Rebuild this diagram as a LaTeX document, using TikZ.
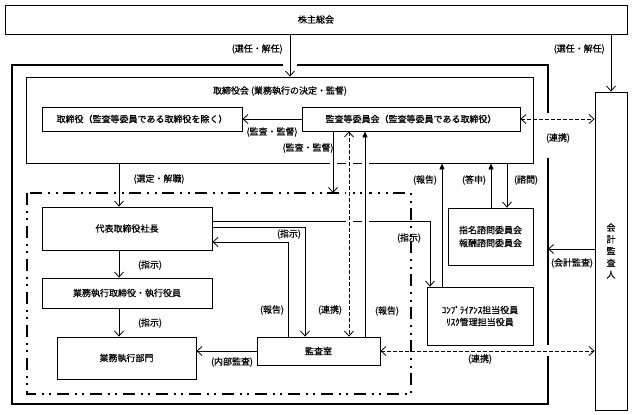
\documentclass[tikz,border=0pt]{standalone}
\usepackage{fontspec}
\setmainfont{Noto Sans CJK JP}[FakeBold=0.6]
\usetikzlibrary{arrows.meta,calc}
\pgfdeclarelayer{back}
\pgfsetlayers{back,main}
\newcommand\dfont{\fontsize{9}{11}\selectfont}
\tikzset{
  box/.style={draw=black, line width=0.8pt, fill=white, font=\dfont, align=center, inner sep=1pt},
  lbl/.style={font=\dfont, inner sep=1pt},
  conn/.style={draw=black, line width=0.8pt},
  oarr/.style={conn, -{Straight Barb[length=5pt,width=9pt]}},
  tarr/.style={conn, -{Triangle[length=6pt,width=5pt]}},
  darr/.style={conn, dash pattern=on 3.5pt off 2.5pt, {Straight Barb[length=5pt,width=9pt]}-{Straight Barb[length=5pt,width=9pt]}},
  gapcut/.style={preaction={draw=white, line width=7pt, solid, -}},
  thickframe/.style={draw=black, line width=2.3pt},
  ddframe/.style={draw=black, line width=2.1pt, dash pattern=on 12pt off 5.5pt on 2pt off 5.5pt on 2pt off 6pt}
}
\begin{document}
\begin{tikzpicture}[x=1pt,y=-1pt]
\useasboundingbox (0,0) rectangle (632,415);

% column / row helpers
\coordinate (xa) at (119,0);
\coordinate (xb) at (290,0);
\coordinate (xc) at (333,0);
\coordinate (xd) at (349,0);
\coordinate (xe) at (365,0);
\coordinate (xf) at (442,0);
\coordinate (xg) at (491,0);
\coordinate (xh) at (507,0);
\coordinate (xi) at (430,0);
\coordinate (xj) at (305,0);
\coordinate (xk) at (288,0);
\coordinate (ya) at (0,221);
\coordinate (yb) at (0,227);
\coordinate (yc) at (0,242);
\coordinate (yd) at (0,249);
\coordinate (ddtop) at (0,193);
\coordinate (ofr) at (548,0);

% main boxes
\node[box, minimum width=622pt, minimum height=29pt] (sh) at (316,19.5) {株主総会};
\node[box, minimum width=200pt, minimum height=24pt] (dir) at (142,119) {取締役（監査等委員である取締役を除く）};
\node[box, minimum width=218pt, minimum height=24pt] (ac) at (411,119) {監査等委員会（監査等委員である取締役）};
\node[box, minimum width=32pt, minimum height=318pt, font=\fontsize{9}{11.75}\selectfont] (kaikei) at (611,251) {会\\計\\監\\査\\人};
\node[box, minimum width=170pt, minimum height=43pt] (ceo) at (127,228.5) {代表取締役社長};
\node[box, minimum width=170pt, minimum height=30pt] (exec) at (127,293) {業務執行取締役・執行役員};
\node[box, minimum width=139pt, minimum height=42pt] (dept) at (126.5,358) {業務執行部門};
\node[box, minimum width=123pt, minimum height=28pt] (iad) at (318.5,351) {監査室};
\node[box, minimum width=85pt, minimum height=57pt, font=\fontsize{9}{13}\selectfont] (nom) at (490.5,236.5) {指名諮問委員会\\報酬諮問委員会};
\node[box, minimum width=106pt, minimum height=58pt, font=\fontsize{9}{12}\selectfont] (comp) at (480,316) {ｺﾝﾌﾟﾗｲｱﾝｽ担当役員\\ﾘｽｸ管理担当役員};

% labels
\node[lbl] (btitle) at (280,91) {取締役会 (業務執行の決定・監督)};
\node[lbl, anchor=east] (l1) at (284,49) {(選任・解任)};
\node[lbl, anchor=east] (l2) at (606,49) {(選任・解任)};
\node[lbl] (l3) at (272,132) {(監査・監督)};
\node[lbl] (l4) at (308,148) {(監査・監督)};
\node[lbl] (l5) at (558,138) {(連携)};
\node[lbl] (l6) at (159,179) {(選定・解職)};
\node[lbl] (l7) at (150,265) {(指示)};
\node[lbl] (l8) at (150,323) {(指示)};
\node[lbl] (l9) at (289,234) {(指示)};
\node[lbl] (l10) at (409,238) {(指示)};
\node[lbl] (l11) at (272,310) {(報告)};
\node[lbl] (l12) at (330,310) {(連携)};
\node[lbl] (l13) at (387,311) {(報告)};
\node[lbl] (l14) at (232,362) {(内部監査)};
\node[lbl] (l15) at (480,359) {(連携)};
\node[lbl] (l16) at (425,180) {(報告)};
\node[lbl] (l17) at (474,180) {(答申)};
\node[lbl] (l18) at (526,180) {(諮問)};
\node[lbl] (l19) at (572,263) {(会計監査)};

\begin{pgfonlayer}{back}
  % outer thick frame (with openings where lines pass)
  \draw[thickframe] (283,65) -- (12,65) -- (12,404) -- (548,404) -- (548,356);
  \draw[thickframe] (297,65) -- (548,65) -- (548,113);
  \draw[thickframe] (548,158) -- (548,345);
  % board of directors frame
  \node[draw=black, line width=0.8pt, minimum width=507pt, minimum height=86pt, inner sep=0pt] (board) at (279.5,120) {};
  % president -> compliance officer
  \draw[oarr, gapcut] (ceo.east |- ya) -- (xi |- ya) -- (comp.north -| xi);
  % audit committee -> execution block
  \draw[oarr, gapcut] (ac.south -| xc) -- (xc |- ddtop);
  % dash-dot frame of the execution block
  \draw[ddframe] (27,193) rectangle (411,394);
  % audit committee <-> internal audit office
  \draw[darr, gapcut] (ac.south -| xd) -- (iad.north -| xd);
  \draw[tarr, gapcut] (iad.north -| xe) -- (ac.south -| xe);
  % other connectors
  \draw[oarr] (sh.south -| xb) -- (board.north -| xb);
  \draw[oarr] (sh.south -| kaikei) -- (kaikei.north);
  \draw[oarr] (ac.west) -- (dir.east);
  \draw[darr] (ac.east) -- (kaikei.west |- ac.east);
  \draw[oarr] (board.south -| xa) -- (ceo.north -| xa);
  \draw[oarr] (ceo.south -| xa) -- (exec.north -| xa);
  \draw[oarr] (exec.south -| xa) -- (dept.north -| xa);
  \draw[oarr] (ceo.east |- yb) -| (iad.north -| xj);
  \draw[oarr] (iad.north -| xk) |- (ceo.east |- yc);
  \draw[oarr] (iad.west) -- (dept.east |- iad.west);
  \draw[darr] (iad.east) -- (kaikei.west |- iad.east);
  \draw[tarr] (comp.north -| xf) -- (board.south -| xf);
  \draw[tarr] (nom.north -| xg) -- (board.south -| xg);
  \draw[oarr] (board.south -| xh) -- (nom.north -| xh);
  \draw[oarr] (kaikei.west |- yd) -- (ofr |- yd);
\end{pgfonlayer}
\end{tikzpicture}
\end{document}
